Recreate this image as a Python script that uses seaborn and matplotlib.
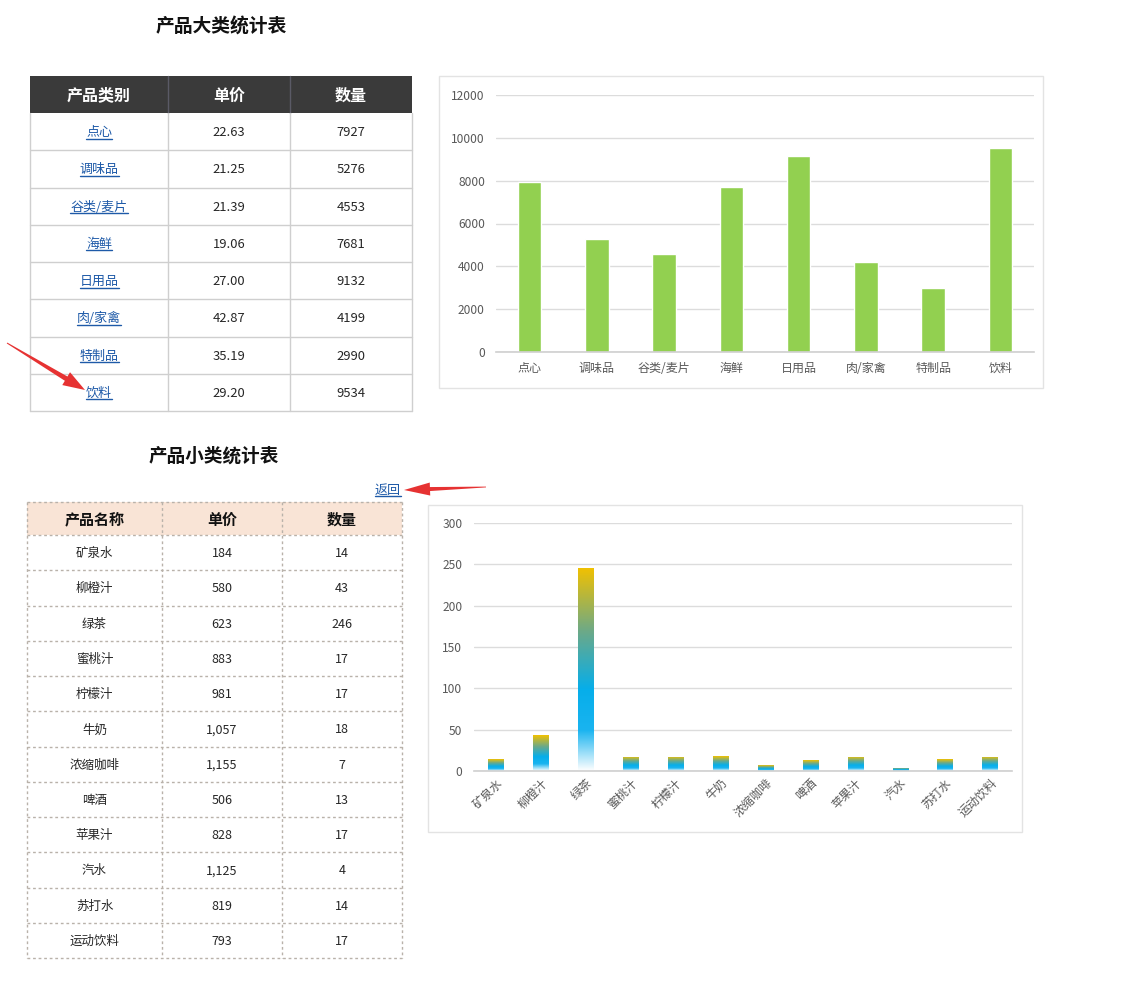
import numpy as np
import pandas as pd
import matplotlib
matplotlib.use("Agg")
import matplotlib.pyplot as plt
import seaborn as sns
from matplotlib.patches import Rectangle, Polygon
from matplotlib.colors import LinearSegmentedColormap

# ---------------- data ----------------
categories = ['点心', '调味品', '谷类/麦片', '海鲜', '日用品', '肉/家禽', '特制品', '饮料']
cat_price = ['22.63', '21.25', '21.39', '19.06', '27.00', '42.87', '35.19', '29.20']
cat_qty = [7927, 5276, 4553, 7681, 9132, 4199, 2990, 9534]

products = ['矿泉水', '柳橙汁', '绿茶', '蜜桃汁', '柠檬汁', '牛奶', '浓缩咖啡', '啤酒',
            '苹果汁', '汽水', '苏打水', '运动饮料']
prod_price = ['184', '580', '623', '883', '981', '1,057', '1,155', '506', '828',
              '1,125', '819', '793']
prod_qty = [14, 43, 246, 17, 17, 18, 7, 13, 17, 4, 14, 17]

table1_header = ['产品类别', '单价', '数量']
table2_header = ['产品名称', '单价', '数量']
title1 = '产品大类统计表'
title2 = '产品小类统计表'
back_link = '返回'
y1_ticks = [0, 2000, 4000, 6000, 8000, 10000, 12000]
y2_ticks = [0, 50, 100, 150, 200, 250, 300]

# ---------------- style ----------------
sns.set_style('white')
plt.rcParams['font.family'] = ['Noto Sans CJK SC', 'DejaVu Sans']
plt.rcParams['axes.unicode_minus'] = False

W, H = 1139, 1000
fig = plt.figure(figsize=(W / 100, H / 100), dpi=100)
bg = fig.add_axes([0, 0, 1, 1])
bg.set_xlim(0, W)
bg.set_ylim(H, 0)
bg.axis('off')

PT = 0.72  # px -> pt
TXT = '#262626'
LINK = '#1e5aa8'
RED = '#e63232'

# ---------------- titles ----------------
bg.text(221, 27, title1, ha='center', va='center', fontsize=18.8 * PT, fontweight='bold', color='#111111')
bg.text(214, 456, title2, ha='center', va='center', fontsize=18.6 * PT, fontweight='bold', color='#111111')

underline_texts = []

# ---------------- table 1 ----------------
cx = [30, 168, 290, 412]
top, hdr_bot = 76, 113
row_h = (411 - 113) / len(categories)
bg.add_patch(Rectangle((cx[0], top), cx[-1] - cx[0], hdr_bot - top, facecolor='#3a3a3a', edgecolor='none'))
for x in cx[1:-1]:
    bg.plot([x, x], [top, hdr_bot], color='#5a5a66', lw=1)
for i, h in enumerate(table1_header):
    bg.text((cx[i] + cx[i + 1]) / 2, (top + hdr_bot) / 2 + 1, h, ha='center', va='center',
            fontsize=16 * PT, fontweight='bold', color='white')
for r in range(len(categories)):
    y0 = hdr_bot + r * row_h
    yc = y0 + row_h / 2 + 1
    bg.plot([cx[0], cx[-1]], [y0 + row_h, y0 + row_h], color='#cfcfcf', lw=1)
    t = bg.text((cx[0] + cx[1]) / 2, yc, categories[r], ha='center', va='center',
                fontsize=13 * PT, color=LINK)
    underline_texts.append(t)
    bg.text((cx[1] + cx[2]) / 2, yc, cat_price[r], ha='center', va='center', fontsize=13 * PT, color=TXT)
    bg.text((cx[2] + cx[3]) / 2, yc, str(cat_qty[r]), ha='center', va='center', fontsize=13 * PT, color=TXT)
for x in cx:
    bg.plot([x, x], [hdr_bot, 411], color='#cfcfcf', lw=1)

# ---------------- table 2 ----------------
dx = [27, 162, 282, 402]
top2, hdr2_bot, bot2 = 502, 535, 958
row2_h = (bot2 - hdr2_bot) / len(products)
bg.add_patch(Rectangle((dx[0], top2), dx[-1] - dx[0], hdr2_bot - top2, facecolor='#f9e4d6', edgecolor='none'))
dash = dict(color='#b9b2aa', lw=1, linestyle=(0, (2, 2)))
for i, h in enumerate(table2_header):
    bg.text((dx[i] + dx[i + 1]) / 2, (top2 + hdr2_bot) / 2 + 1, h, ha='center', va='center',
            fontsize=15 * PT, fontweight='bold', color='#111111')
bg.plot([dx[0], dx[-1]], [top2, top2], **dash)
bg.plot([dx[0], dx[-1]], [hdr2_bot, hdr2_bot], **dash)
for r in range(len(products)):
    y0 = hdr2_bot + r * row2_h
    yc = y0 + row2_h / 2 + 1
    bg.plot([dx[0], dx[-1]], [y0 + row2_h, y0 + row2_h], **dash)
    bg.text((dx[0] + dx[1]) / 2, yc, products[r], ha='center', va='center', fontsize=12.5 * PT, color=TXT)
    bg.text((dx[1] + dx[2]) / 2, yc, prod_price[r], ha='center', va='center', fontsize=12.5 * PT, color=TXT)
    bg.text((dx[2] + dx[3]) / 2, yc, str(prod_qty[r]), ha='center', va='center', fontsize=12.5 * PT, color=TXT)
for x in dx:
    bg.plot([x, x], [top2, bot2], **dash)

# back link
t = bg.text(401, 490, back_link, ha='right', va='center', fontsize=13 * PT, color=LINK)
underline_texts.append(t)

# ---------------- chart frames ----------------
bg.add_patch(Rectangle((439, 76), 1043 - 439, 388 - 76, facecolor='white', edgecolor='#e3e3e3', lw=1))
bg.add_patch(Rectangle((428, 505), 1022 - 428, 832 - 505, facecolor='white', edgecolor='#e3e3e3', lw=1))


# ---------------- arrows ----------------
def tapered_arrow(ax, x0, y0, x1, y1, tail_w, shaft_w, head_w, head_len, color):
    p0 = np.array([x0, y0], float)
    p1 = np.array([x1, y1], float)
    d = (p1 - p0) / np.linalg.norm(p1 - p0)
    n = np.array([-d[1], d[0]])
    neck = p1 - d * head_len
    pts = [p0 + n * tail_w / 2, neck + n * shaft_w / 2, neck + n * head_w / 2, p1,
           neck - n * head_w / 2, neck - n * shaft_w / 2, p0 - n * tail_w / 2]
    ax.add_patch(Polygon(pts, closed=True, facecolor=color, edgecolor='none', zorder=10))


tapered_arrow(bg, 7, 343, 85, 390, 1.0, 5, 15, 22, RED)
tapered_arrow(bg, 486, 487, 404, 490, 0.8, 4, 13, 26, RED)


def px_axes(l, t, r, b):
    return fig.add_axes([l / W, 1 - b / H, (r - l) / W, (b - t) / H])


def style_axes(ax, ylim, yticks):
    ax.set_facecolor('none')
    ax.set_ylim(*ylim)
    ax.set_yticks(yticks)
    ax.set_yticklabels([str(v) for v in yticks])
    ax.yaxis.grid(True, color='#dcdcdc', lw=1)
    ax.set_axisbelow(True)
    for s in ['top', 'right', 'left']:
        ax.spines[s].set_visible(False)
    ax.spines['bottom'].set_color('#cfcfcf')
    ax.spines['bottom'].set_linewidth(1.2)
    ax.tick_params(axis='both', length=0, colors='#595959', labelsize=12 * PT)
    ax.tick_params(axis='y', pad=8)
    ax.set_xlabel('')
    ax.set_ylabel('')


# ---------------- chart 1 ----------------
ax1 = px_axes(496, 95, 1034, 352)
df1 = pd.DataFrame({'cat': categories, 'qty': cat_qty})
sns.barplot(data=df1, x='cat', y='qty', ax=ax1, color='#92d050', saturation=1, width=0.35)
style_axes(ax1, (0, 12000), y1_ticks)
ax1.tick_params(axis='x', pad=7)

# ---------------- chart 2 ----------------
ax2 = px_axes(473.5, 523, 1012.5, 771)
df2 = pd.DataFrame({'prod': products, 'qty': prod_qty})
sns.barplot(data=df2, x='prod', y='qty', ax=ax2, color='#00b0f0', saturation=1, width=0.34)
style_axes(ax2, (0, 300), y2_ticks)
ax2.tick_params(axis='x', pad=4)
for lab in ax2.get_xticklabels():
    lab.set_rotation(45)
    lab.set_ha('right')
    lab.set_rotation_mode('anchor')

cmap = LinearSegmentedColormap.from_list('grad', [(0.0, '#ffffff'), (0.2, '#1ab4f0'), (0.4, '#06aeea'),
                                                  (0.68, '#6aa98a'), (1.0, '#f2c100')])
grad = np.linspace(0, 1, 256).reshape(-1, 1)
xl, yl = ax2.get_xlim(), ax2.get_ylim()
for p in ax2.patches:
    x, y, w, h = p.get_x(), p.get_y(), p.get_width(), p.get_height()
    p.set_facecolor('none')
    p.set_edgecolor('none')
    im = ax2.imshow(grad, extent=[x, x + w, y, y + h], origin='lower', aspect='auto', cmap=cmap,
                    interpolation='bilinear', zorder=2)
    im.set_clip_path(p)
ax2.set_xlim(xl)
ax2.set_ylim(yl)

# ---------------- underlines ----------------
fig.canvas.draw()
renderer = fig.canvas.get_renderer()
for t in underline_texts:
    bb = t.get_window_extent(renderer)
    yb = H - bb.y0 - 0.5
    bg.plot([bb.x0, bb.x1], [yb, yb], color=LINK, lw=1)

fig.savefig('out.png', dpi=100)
